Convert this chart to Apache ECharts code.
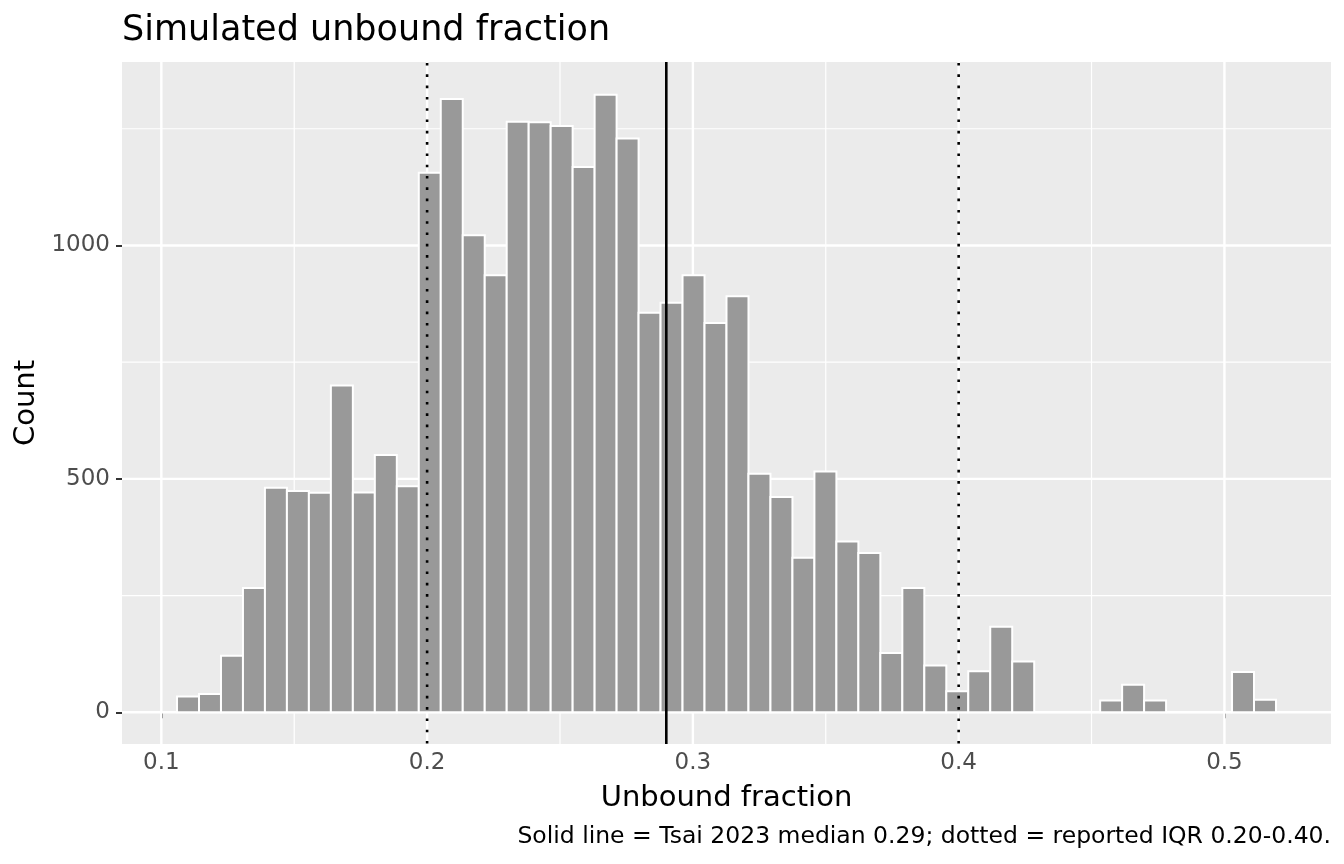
<!DOCTYPE html>
<html>
<head>
    <meta charset="utf-8">
    <title>Simulated unbound fraction</title>
    <script src="https://cdn.jsdelivr.net/npm/echarts@6/dist/echarts.min.js"></script>
    <style>
        html, body { margin: 0; padding: 0; background: #ffffff; }
    </style>
</head>
<body>
    <div id="hist" style="width: 1344px;height:864px;"></div>
    <script type="text/javascript">
        // histogram bins
        var binStart = 0.1059;
        var binWidth = 0.00827;
        var counts = [34, 39, 121, 266, 481, 474, 470, 700, 471, 551,
                      484, 1156, 1314, 1022, 936, 1265, 1264, 1256, 1168, 1323,
                      1229, 856, 877, 936, 834, 891, 511, 461, 331, 516,
                      366, 341, 127, 266, 100, 45, 88, 183, 109, 0,
                      0, 0, 25, 59, 25, 0, 0, 0, 86, 27];
        // reference lines
        var medianLine = [0.29];
        var iqrLines = [0.20, 0.40];
        // ticks / grid
        var xMajor = [0.1, 0.2, 0.3, 0.4, 0.5];
        var xMinor = [0.15, 0.25, 0.35, 0.45];
        var yMajor = [0, 500, 1000];
        var yMinor = [250, 750, 1250];

        var barData = [];
        for (var i = 0; i < counts.length; i++) {
            barData.push([binStart + i * binWidth, binStart + (i + 1) * binWidth, counts[i]]);
        }
        var hGrid = [];
        yMinor.forEach(function (v) { hGrid.push([v, 1.2]); });
        yMajor.forEach(function (v) { hGrid.push([v, 2.4]); });
        var vGrid = [];
        xMinor.forEach(function (v) { vGrid.push([v, 1.2]); });
        xMajor.forEach(function (v) { vGrid.push([v, 2.4]); });

        var font = 'DejaVu Sans';
        var chart = echarts.init(document.getElementById('hist'));
        var option = {
            animation: false,
            backgroundColor: '#ffffff',
            title: {
                text: 'Simulated unbound fraction',
                left: 117,
                top: 8,
                textStyle: { fontFamily: font, fontSize: 35, fontWeight: 'normal', color: '#000000' }
            },
            graphic: [{
                type: 'text',
                right: 13,
                top: 825,
                style: {
                    text: 'Solid line = Tsai 2023 median 0.29; dotted = reported IQR 0.20-0.40.',
                    font: '23.5px "DejaVu Sans"',
                    fill: '#000000'
                }
            }],
            grid: {
                left: 122, right: 13, top: 62, bottom: 120,
                show: true, backgroundColor: '#EBEBEB', borderWidth: 0
            },
            xAxis: {
                type: 'value',
                min: 0.0852,
                max: 0.5401,
                name: 'Unbound fraction',
                nameLocation: 'middle',
                nameGap: 40,
                nameTextStyle: { fontFamily: font, fontSize: 29, color: '#000000' },
                axisLine: { show: false },
                splitLine: { show: false },
                axisTick: { show: true, customValues: xMajor, length: 6, lineStyle: { color: '#333333', width: 2 } },
                axisLabel: {
                    customValues: xMajor, color: '#4D4D4D', fontFamily: font, fontSize: 23, margin: 8,
                    formatter: function (v) { return v.toFixed(1); }
                }
            },
            yAxis: {
                type: 'value',
                min: -68,
                max: 1393,
                name: 'Count',
                nameLocation: 'middle',
                nameGap: 73,
                nameTextStyle: { fontFamily: font, fontSize: 29, color: '#000000' },
                axisLine: { show: false },
                splitLine: { show: false },
                axisTick: { show: true, customValues: yMajor, length: 6, lineStyle: { color: '#333333', width: 2 } },
                axisLabel: {
                    customValues: yMajor, color: '#4D4D4D', fontFamily: font, fontSize: 23, margin: 12,
                    formatter: function (v) { return String(v); }
                }
            },
            series: [
                {
                    // horizontal grid lines
                    type: 'custom',
                    z: 1,
                    silent: true,
                    data: hGrid,
                    encode: { y: 0 },
                    renderItem: function (params, api) {
                        var cs = params.coordSys;
                        var y = api.coord([0.3, api.value(0)])[1];
                        return { type: 'line', shape: { x1: cs.x, y1: y, x2: cs.x + cs.width, y2: y },
                                 style: { stroke: '#ffffff', lineWidth: api.value(1) } };
                    }
                },
                {
                    // vertical grid lines
                    type: 'custom',
                    z: 1,
                    silent: true,
                    data: vGrid,
                    encode: { x: 0 },
                    renderItem: function (params, api) {
                        var cs = params.coordSys;
                        var x = api.coord([api.value(0), 0])[0];
                        return { type: 'line', shape: { x1: x, y1: cs.y, x2: x, y2: cs.y + cs.height },
                                 style: { stroke: '#ffffff', lineWidth: api.value(1) } };
                    }
                },
                {
                    name: 'Count',
                    type: 'custom',
                    z: 2,
                    data: barData,
                    encode: { x: [0, 1], y: 2 },
                    renderItem: function (params, api) {
                        var p0 = api.coord([api.value(0), api.value(2)]);
                        var p1 = api.coord([api.value(1), 0]);
                        return { type: 'rect',
                                 shape: { x: p0[0], y: p0[1], width: p1[0] - p0[0], height: p1[1] - p0[1] },
                                 style: { fill: '#999999', stroke: '#ffffff', lineWidth: 2 } };
                    }
                },
                {
                    // IQR dotted lines
                    type: 'custom',
                    z: 3,
                    silent: true,
                    data: iqrLines.map(function (v) { return [v]; }),
                    encode: { x: 0 },
                    renderItem: function (params, api) {
                        var cs = params.coordSys;
                        var x = api.coord([api.value(0), 0])[0];
                        return { type: 'line', shape: { x1: x, y1: cs.y + 1, x2: x, y2: cs.y + cs.height },
                                 style: { stroke: '#000000', lineWidth: 2.6, lineDash: [2.6, 8.7] } };
                    }
                },
                {
                    // median solid line
                    type: 'custom',
                    z: 3,
                    silent: true,
                    data: medianLine.map(function (v) { return [v]; }),
                    encode: { x: 0 },
                    renderItem: function (params, api) {
                        var cs = params.coordSys;
                        var x = api.coord([api.value(0), 0])[0];
                        return { type: 'line', shape: { x1: x, y1: cs.y, x2: x, y2: cs.y + cs.height },
                                 style: { stroke: '#000000', lineWidth: 2.6 } };
                    }
                }
            ]
        };
        chart.setOption(option);
    </script>
</body>
</html>
